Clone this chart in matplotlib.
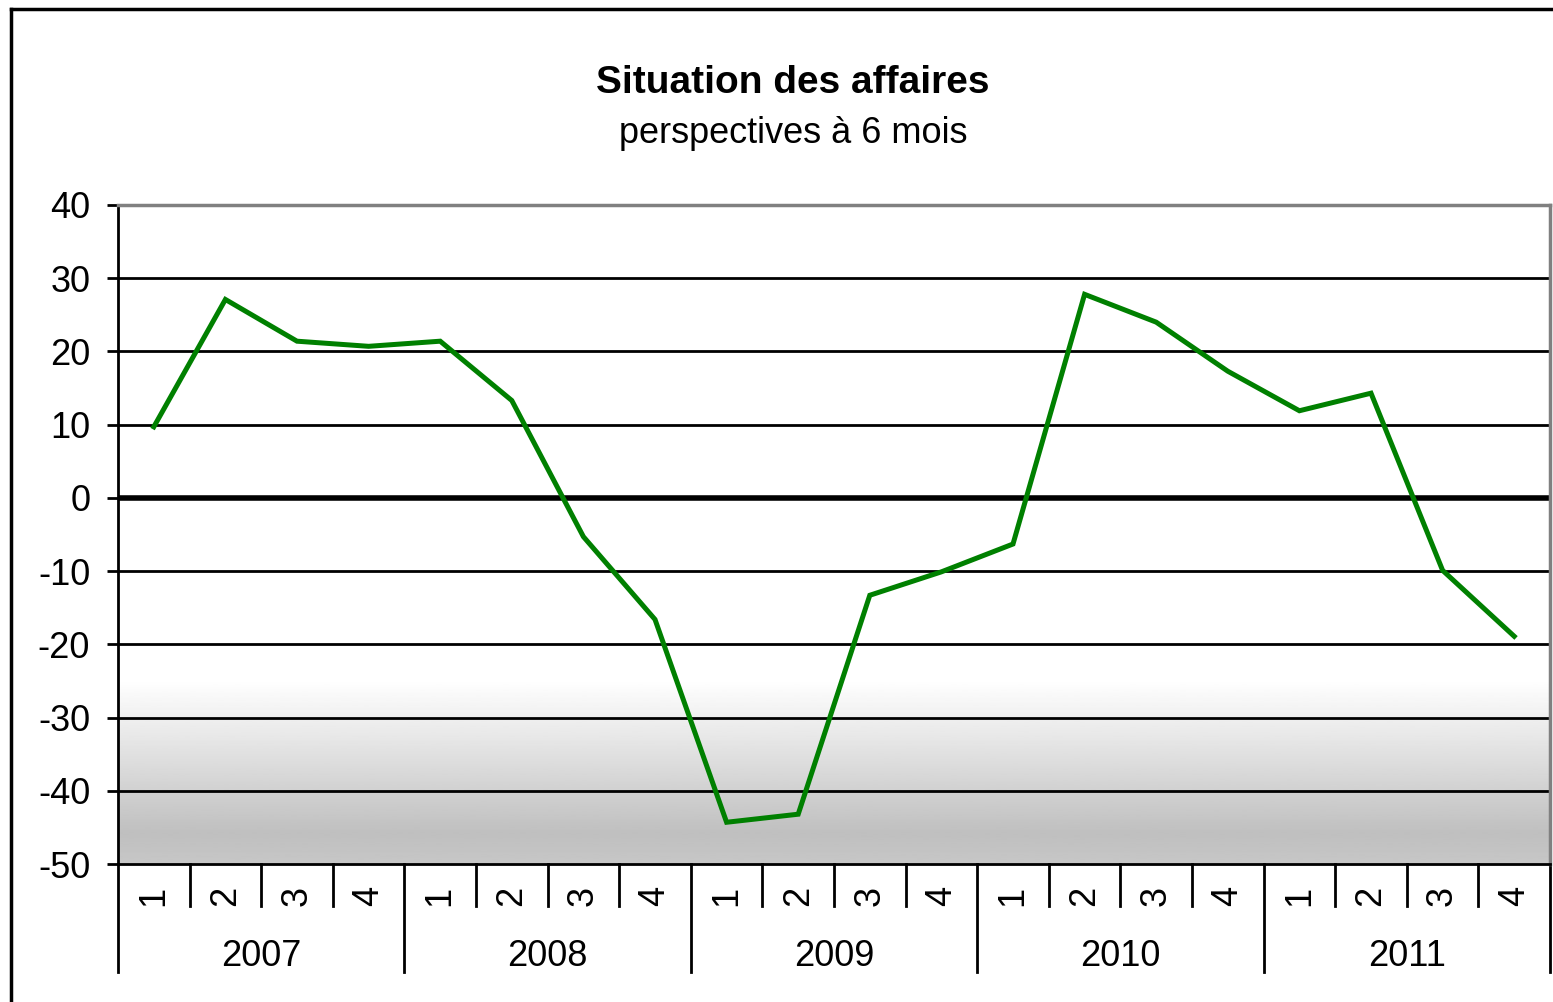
import numpy as np
import matplotlib
matplotlib.use("Agg")
import matplotlib.pyplot as plt
from matplotlib.colors import LinearSegmentedColormap
from matplotlib.lines import Line2D

plt.rcParams['font.family'] = ['Liberation Sans', 'DejaVu Sans']

# Donnees : perspectives a 6 mois, par trimestre
annees = ["2007", "2008", "2009", "2010", "2011"]
trimestres = ["1", "2", "3", "4"]
valeurs = [9.7, 27.1, 21.4, 20.7,
           21.4, 13.3, -5.3, -16.6,
           -44.3, -43.2, -13.3, -10.1,
           -6.3, 27.8, 24.0, 17.3,
           11.9, 14.3, -9.9, -18.9]
yticks = [40, 30, 20, 10, 0, -10, -20, -30, -40, -50]

W, H = 1553, 1002
fig = plt.figure(figsize=(W / 100, H / 100), dpi=100)
fig.patch.set_facecolor("white")

# cadre exterieur (gauche et haut seulement visibles)
fig.add_artist(Line2D([11 / W, 11 / W], [0, 1 - 9 / H], transform=fig.transFigure,
                      color="black", lw=2.5))
fig.add_artist(Line2D([11 / W, 1], [1 - 9 / H, 1 - 9 / H], transform=fig.transFigure,
                      color="black", lw=2.5))

left, right, top, bottom = 118, 1550, 205, 864
ax = fig.add_axes([left / W, 1 - bottom / H, (right - left) / W, (bottom - top) / H])

n = len(valeurs)
x = np.arange(n) + 0.5
ax.set_xlim(0, n)
ax.set_ylim(-50, 40)

# fond degrade (blanc -> gris en bas)
ys = np.linspace(40, -50, 400)
col = np.ones_like(ys)
for i, yv in enumerate(ys):
    if yv > -25:
        c = 1.0
    elif yv > -46:
        c = 1.0 - (-25 - yv) / 21 * (1 - 0.75)
    else:
        c = 0.75 + (-46 - yv) / 4 * 0.03
    col[i] = c
cmap = LinearSegmentedColormap.from_list("g", [(0, 0, 0), (1, 1, 1)])
ax.imshow(col[:, None], cmap=cmap, vmin=0, vmax=1, aspect="auto",
          extent=[0, n, -50, 40], zorder=0, interpolation="bilinear")

for t in yticks:
    if t in (40, -50):
        continue
    ax.axhline(t, color="black", lw=4 if t == 0 else 2, zorder=1)

ax.plot(x, valeurs, color="#008000", lw=3.6, zorder=3, solid_joinstyle="miter")

for s in ["top", "right"]:
    ax.spines[s].set_color("#808080")
    ax.spines[s].set_linewidth(2.5)
ax.spines["left"].set_color("black")
ax.spines["left"].set_linewidth(2)
ax.spines["bottom"].set_color("black")
ax.spines["bottom"].set_linewidth(2)

ax.set_yticks(yticks)
ax.set_yticklabels([str(t) for t in yticks], fontsize=26)
ax.tick_params(axis="y", direction="out", length=8, width=2, pad=12)
ax.set_xticks([])

# axe des categories a deux niveaux
trans = ax.get_xaxis_transform()
for k in range(n + 1):
    if k % 4 == 0:
        ax.add_line(Line2D([k, k], [0, -108 / (bottom - top)], transform=trans,
                           color="black", lw=2, clip_on=False))
    else:
        ax.add_line(Line2D([k, k], [0, -42 / (bottom - top)], transform=trans,
                           color="black", lw=2, clip_on=False))
for k in range(n):
    ax.text(k + 0.5, -32 / (bottom - top), trimestres[k % 4], transform=trans,
            rotation=90, ha="center", va="center", fontsize=26)
for j, a in enumerate(annees):
    ax.text(j * 4 + 2, -92 / (bottom - top), a, transform=trans,
            ha="center", va="center", fontsize=26)

fig.text(793 / W, 1 - 83 / H, "Situation des affaires", ha="center", va="center",
         fontsize=28, fontweight="bold")
fig.text(793 / W, 1 - 133 / H, "perspectives à 6 mois", ha="center", va="center",
         fontsize=26)

fig.savefig("out.png", dpi=100)
